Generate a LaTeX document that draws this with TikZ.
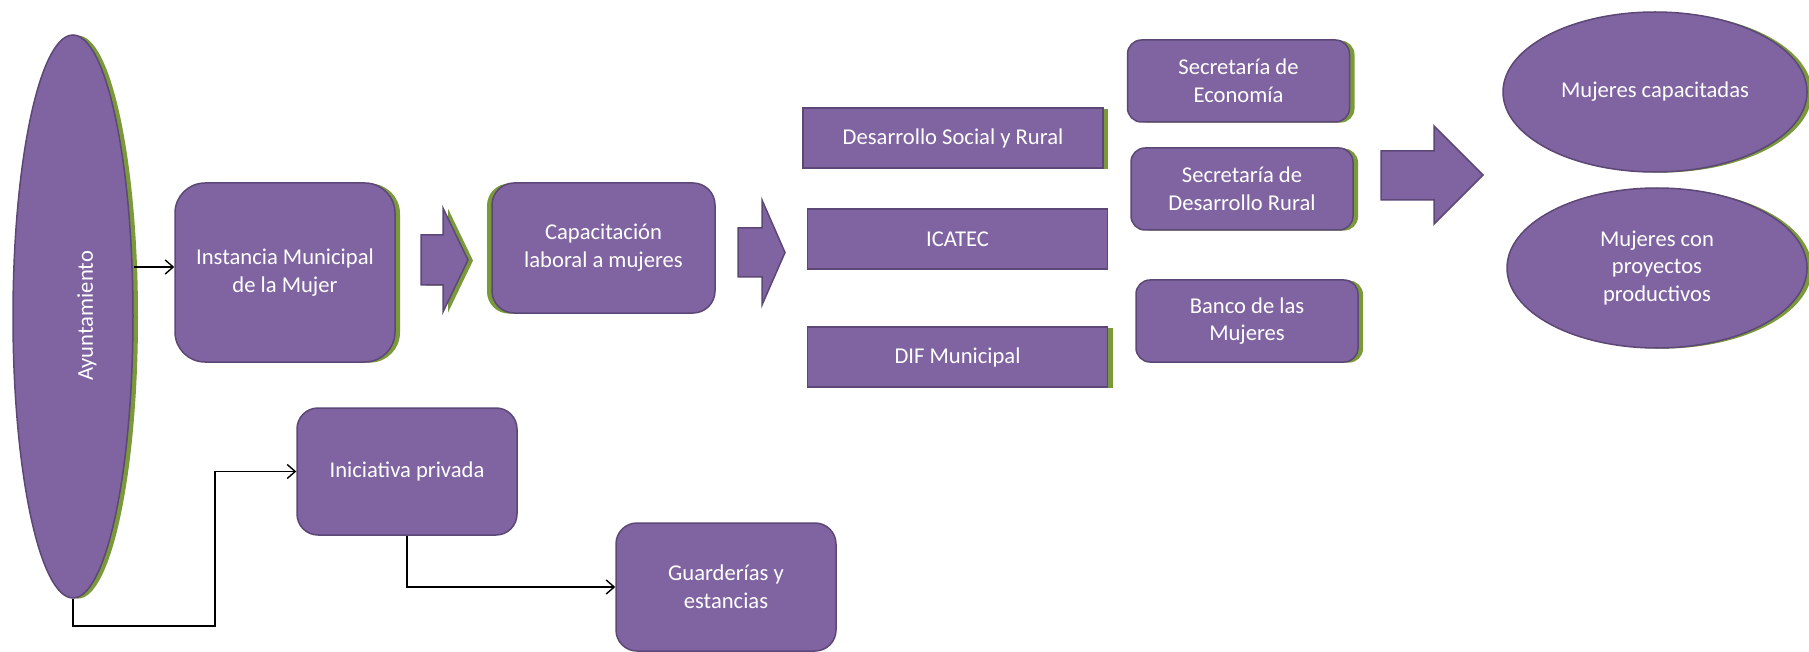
\documentclass[tikz,border=0pt]{standalone}
\usepackage{fontspec}
\setmainfont{Carlito}
\usepackage{tikz}
\usetikzlibrary{shapes.geometric,shadows,arrows.meta}

\definecolor{boxpurple}{HTML}{8064A2}
\definecolor{boxedge}{HTML}{5C4776}
\definecolor{shgreen}{HTML}{7A9A3A}

\tikzset{
  txt/.style={text=white, font=\fontsize{11.3}{13.9}\selectfont, align=center, inner sep=0pt},
  purplebox/.style={txt, fill=boxpurple, draw=boxedge, line width=0.75pt},
  gshadow/.style={general shadow={fill=shgreen, shadow xshift=2.5pt, shadow yshift=-0.3pt}},
  lshadow/.style={general shadow={fill=shgreen, shadow xshift=-2.5pt, shadow yshift=-0.3pt}},
  roundbox/.style={purplebox, rectangle, rounded corners=#1},
  flatbox/.style={purplebox, rectangle, minimum width=150pt, minimum height=30pt},
  secbox/.style={purplebox, rectangle, rounded corners=7pt, minimum width=111pt, minimum height=41pt},
  oval/.style={purplebox, ellipse},
  blockarrow/.style={fill=boxpurple, draw=boxedge, line width=0.75pt},
  link/.style={-{Straight Barb[length=4pt,width=7pt]}, line width=0.7pt}
}

\begin{document}
\begin{tikzpicture}[x=0.5pt, y=-0.5pt]
\useasboundingbox (0,0) rectangle (1809,652);

% left part
\node[oval, gshadow, minimum width=60pt, minimum height=281.5pt] (ayun) at (73,316.5) {};
\node[txt, rotate=90] (ayuntxt) at (87,316) {Ayuntamiento};

\node[roundbox=15pt, gshadow, minimum width=110pt, minimum height=89.5pt] (inst) at (285,272.5) {Instancia Municipal\\de la Mujer};
\node[roundbox=11pt, lshadow, minimum width=111.5pt, minimum height=65pt] (capac) at (603.5,248) {Capacitaci\'on\\laboral a mujeres};

% block arrows
\draw[blockarrow, gshadow] (421,235) -- (443,235) -- (443,208) -- (468,260) -- (443,312) -- (443,285) -- (421,285) -- cycle;
\draw[blockarrow] (738,228) -- (762,228) -- (762,200) -- (785,252.5) -- (762,305) -- (762,277) -- (738,277) -- cycle;
\draw[blockarrow] (1381,151) -- (1434,151) -- (1434,126) -- (1483,175) -- (1434,224) -- (1434,200) -- (1381,200) -- cycle;

% middle columns
\node[flatbox, gshadow] (desa) at (953,138) {Desarrollo Social y Rural};
\node[flatbox] (icatec) at (957.5,239) {ICATEC};
\node[flatbox, gshadow] (dif) at (957.5,357) {DIF Municipal};

\node[secbox, gshadow] (secon) at (1238.5,81) {Secretar\'ia de\\Econom\'ia};
\node[secbox, gshadow] (sdr) at (1242,189) {Secretar\'ia de\\Desarrollo Rural};
\node[secbox, gshadow] (banco) at (1247,321) {Banco de las\\Mujeres};

% results
\node[oval, gshadow, minimum width=152pt, minimum height=80pt] (mcap) at (1655,92) {Mujeres capacitadas};
\node[oval, gshadow, minimum width=150pt, minimum height=80pt] (mproy) at (1657,268) {Mujeres con\\proyectos\\productivos};

% bottom part
\node[roundbox=10.5pt, minimum width=110pt, minimum height=63.5pt] (inic) at (407,471.5) {Iniciativa privada};
\node[roundbox=10.5pt, minimum width=110pt, minimum height=64pt] (guard) at (726,587) {Guarder\'ias y\\estancias};

\coordinate (bend) at (215,626);
\draw[link] (ayun.east |- 0,267) -- (inst.west |- 0,267);
\draw[link] (ayun.south) |- (bend) |- (inic.west);
\draw[link] (inic.south) |- (guard.west);

\end{tikzpicture}
\end{document}
